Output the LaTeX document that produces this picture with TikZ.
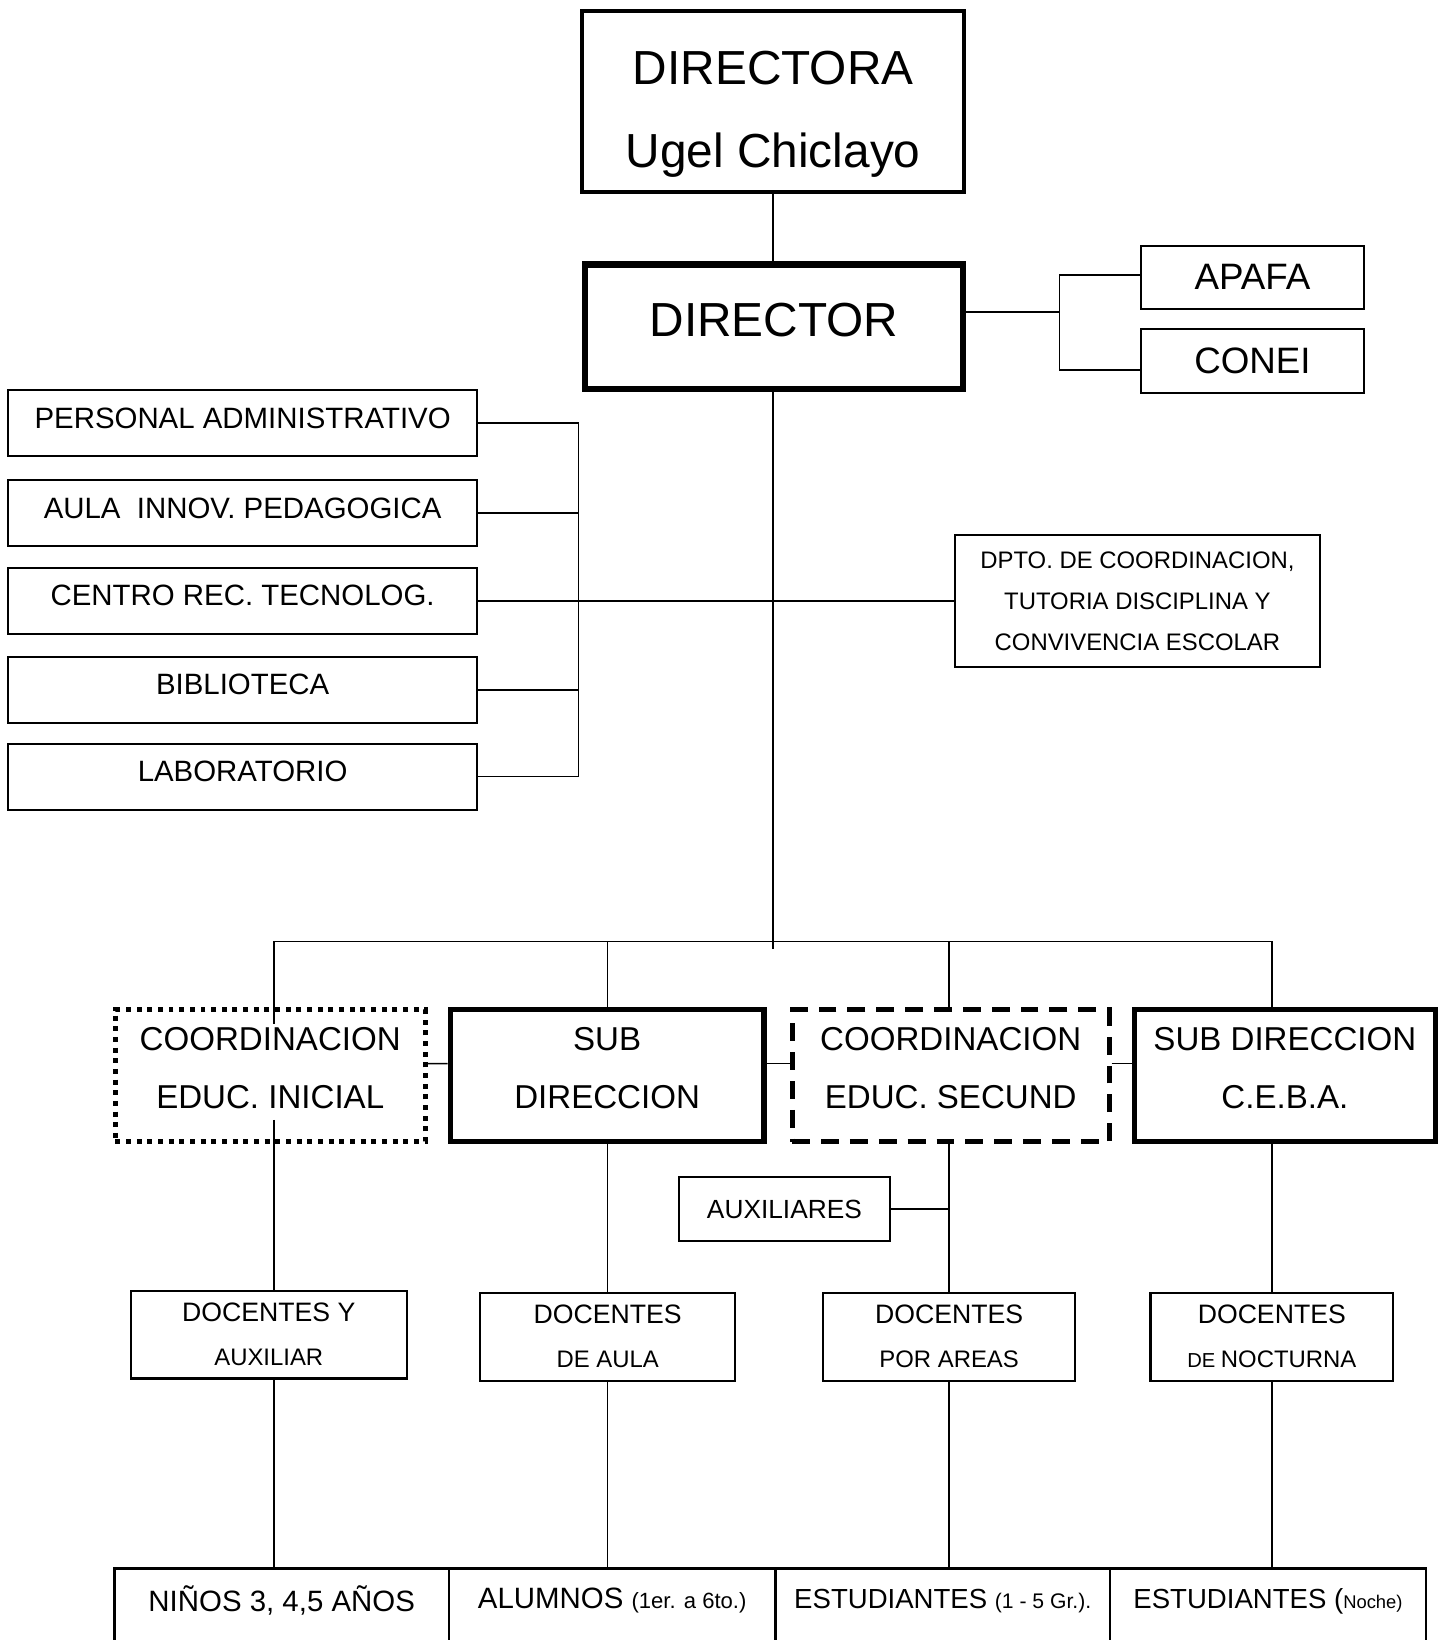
\documentclass[tikz,border=0pt]{standalone}
\usepackage{fontspec}
\setmainfont{Liberation Sans}

\begin{document}
\begin{tikzpicture}[x=0.2mm,y=-0.2mm,
  bx/.style={draw,line width=1.1pt,inner sep=0pt,align=center,anchor=north west},
  gruesa/.style={bx,line width=2.8pt},
  ln/.style={line width=0.9pt},
  lado/.style={bx,minimum width=89.6mm,minimum height=12.6mm,text depth=2mm,
               font=\fontsize{16}{19}\selectfont},
  fila/.style={minimum height=25.2mm,text depth=2.8mm,font=\fontsize{18}{31.5}\selectfont},
  doc/.style={bx,minimum height=16.8mm,font=\fontsize{14.5}{23.8}\selectfont},
  base/.style={bx,line width=1.5pt,minimum height=18.4mm,text depth=6.8mm,
               font=\fontsize{16}{19}\selectfont},
]
\useasboundingbox (0,0) rectangle (1381,1568);
% ============ direccion ============
\coordinate (jm) at (739,907);
\node[bx,line width=2pt,minimum width=73mm,minimum height=34.6mm,text height=26.9mm,
      font=\fontsize{26}{45}\selectfont] (dra) at (555,9) {DIRECTORA\\Ugel Chiclayo};
\node[bx,line width=3.4pt,minimum width=72.4mm,minimum height=23.8mm,text depth=2.8mm,
      font=\fontsize{26}{30}\selectfont] (dir) at (556,250) {DIRECTOR};
\draw[ln] (dra.south-|jm) -- (dir.north-|jm);
\node[bx,minimum width=42.6mm,minimum height=12mm,font=\fontsize{20}{24}\selectfont]
  (apafa) at (1090,234) {APAFA};
\node[bx,minimum width=42.6mm,minimum height=12.2mm,font=\fontsize{20}{24}\selectfont]
  (conei) at (1090,314) {CONEI};
\coordinate (japa) at (1013,298);
\draw[ln] (dir.east|-japa) -- (japa);
\draw[ln] ([yshift=0.4mm]apafa.west) -| (japa) |- ([yshift=-1.6mm]conei.west);
% ============ apoyo (izquierda) ============
\node[lado] (per) at (7,372) {PERSONAL ADMINISTRATIVO};
\node[lado] (aula) at (7,458) {AULA\ \ INNOV. PEDAGOGICA};
\node[lado] (crt) at (7,542) {CENTRO REC. TECNOLOG.};
\node[lado] (bib) at (7,627) {BIBLIOTECA};
\node[lado] (lab) at (7,710) {LABORATORIO};
\coordinate (jl) at (553,0);
\draw[ln] (per.east) -| (jl|-lab.east) -- (lab.east);
\foreach \n in {aula,bib} \draw[ln] (\n.east) -- (\n.east-|jl);
\node[bx,minimum width=69.8mm,minimum height=25.2mm,font=\fontsize{13}{22.4}\selectfont]
  (dpto) at (912,511) {DPTO. DE COORDINACION,\\TUTORIA DISCIPLINA Y\\CONVIVENCIA ESCOLAR};
\draw[ln] (crt.east) -- (crt.east-|dpto.west);
\draw[ln] (dir.south-|jm) -- (jm);
% ============ niveles ============
\node[bx,fila,line width=2.7pt,dash pattern=on 2.7pt off 3.1pt,minimum width=59.2mm]
  (cini) at (108,963) {COORDINACION\\EDUC. INICIAL};
\node[gruesa,fila,minimum width=60mm] (sub) at (428,963) {SUB\\DIRECCION};
\node[bx,fila,line width=2.8pt,dash pattern=on 9.7pt off 6pt,minimum width=60.6mm]
  (csec) at (755,963) {COORDINACION\\EDUC. SECUND};
\node[gruesa,fila,minimum width=57.6mm] (ceba) at (1082,963) {SUB DIRECCION\\C.E.B.A.};
\draw[ln] ([yshift=2.3mm]cini.east) -- ([yshift=2.3mm]sub.west);
\draw[ln] ([yshift=2.3mm]sub.east) -- ([yshift=2.3mm]csec.west);
\draw[ln] ([yshift=2.3mm]csec.east) -- ([yshift=2.3mm]ceba.west);
% ============ docentes ============
\node[doc,minimum width=52.8mm] (dini) at (124,1233) {DOCENTES Y\\{\fontsize{13}{15}\selectfont AUXILIAR}};
\node[doc,minimum width=48.8mm] (daula) at (458,1235) {DOCENTES\\{\fontsize{13}{15}\selectfont DE AULA}};
\node[doc,minimum width=48.2mm] (dare) at (786,1235) {DOCENTES\\{\fontsize{13}{15}\selectfont POR AREAS}};
\node[doc,minimum width=46.4mm] (dnoc) at (1099,1235)
  {DOCENTES\\{\fontsize{11}{15}\selectfont DE }{\fontsize{13}{15}\selectfont NOCTURNA}};
\node[bx,minimum width=40.4mm,minimum height=12.4mm,font=\fontsize{14.3}{17}\selectfont]
  (aux) at (648,1124) {AUXILIARES};
% bus bajo el director
\coordinate (jb) at (0,900);
\coordinate (ci) at (262,0);
\draw[ln] (ci|-jb) -- (dnoc.north|-jb);
\draw[ln] (ci|-jb) -- (ci|-cini.north) -- ++(0,16);
\draw[ln] (ci|-cini.south) ++(0,-23) -- (ci|-dini.north);
\foreach \c/\d in {sub/daula,csec/dare,ceba/dnoc}{
  \draw[ln] (\d.north|-jb) -- (\d.north|-\c.north);
  \draw[ln] (\d.north|-\c.south) -- (\d.north);
}
\draw[ln] (aux.east) -- (aux.east-|dare.north);
% ============ alumnos ============
\node[base,minimum width=64mm] (ninos) at (108,1498) {NIÑOS 3, 4,5 AÑOS};
\node[base,minimum width=62.4mm] (alum) at (428,1498)
  {ALUMNOS {\fontsize{12}{14}\selectfont(1er. a 6to.)}};
\node[base,minimum width=64mm,font=\fontsize{15}{18}\selectfont] (est) at (740,1498)
  {ESTUDIANTES {\fontsize{11.5}{14}\selectfont(1 - 5 Gr.).}};
\node[base,minimum width=60.4mm,font=\fontsize{15}{18}\selectfont] (estn) at (1060,1498)
  {ESTUDIANTES ({\fontsize{10}{12}\selectfont Noche)}};
\draw[ln] (ci|-dini.south) -- (ci|-ninos.north);
\foreach \d/\a in {daula/alum,dare/est,dnoc/estn}
  \draw[ln] (\d.south) -- (\d.south|-\a.north);
\end{tikzpicture}
\end{document}
